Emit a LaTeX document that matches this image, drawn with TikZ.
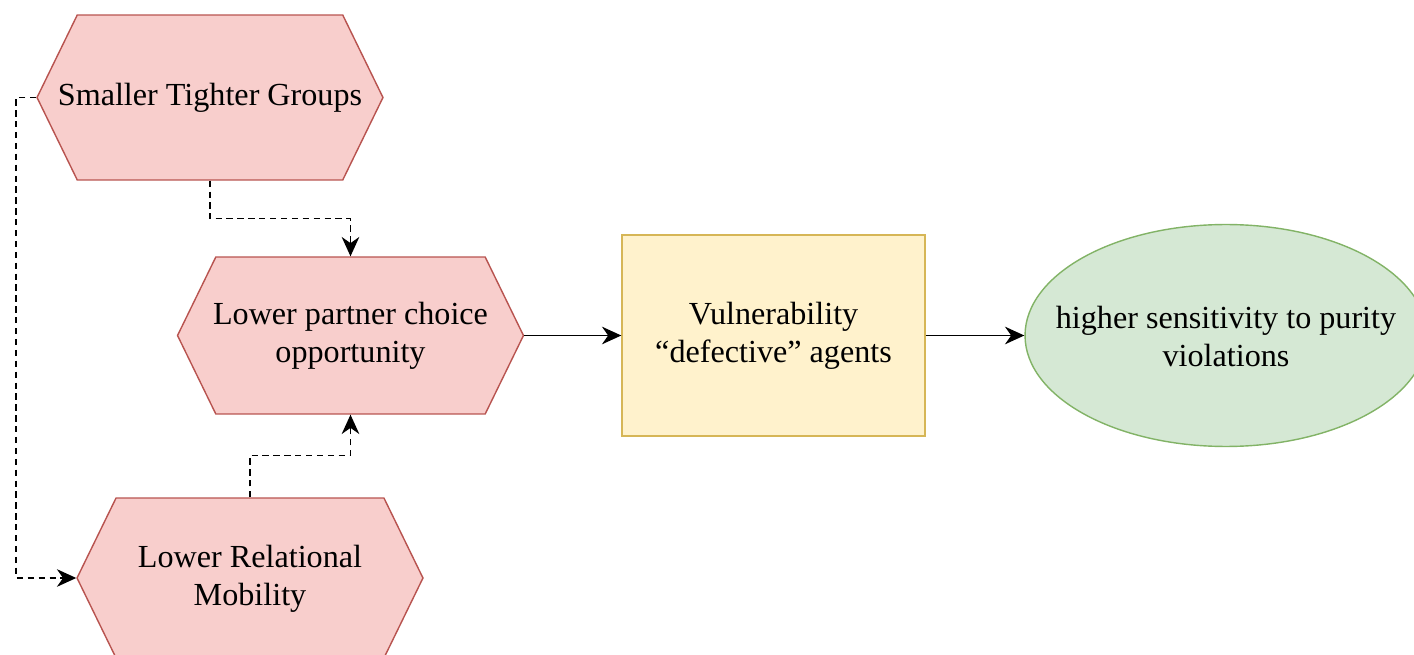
\documentclass[tikz,border=0pt]{standalone}
\usepackage{fontspec}
\setmainfont{Liberation Serif}
\usetikzlibrary{shapes.symbols,shapes.geometric,arrows.meta}
\definecolor{hexfill}{HTML}{F8CECC}
\definecolor{hexline}{HTML}{B85450}
\definecolor{boxfill}{HTML}{FFF2CC}
\definecolor{boxline}{HTML}{D6B656}
\definecolor{ovalfill}{HTML}{D5E8D4}
\definecolor{ovalline}{HTML}{82B366}
\tikzset{
  hexbox/.style={shape=signal, signal to=east and west, signal pointer angle=128,
    fill=hexfill, draw=hexline, line width=0.8pt, inner sep=0pt,
    minimum width=6.92cm, minimum height=3.3cm},
  vulnbox/.style={rectangle, fill=boxfill, draw=boxline, line width=0.8pt,
    inner sep=0pt, minimum width=6.06cm, minimum height=4.02cm},
  resultoval/.style={ellipse, fill=ovalfill, draw=ovalline, line width=0.8pt,
    inner sep=0pt, minimum width=8.04cm, minimum height=4.44cm},
  caption/.style={align=center, inner sep=0pt, yshift=-0.4pt},
  link/.style={line width=0.9pt, -{Stealth[length=11pt,width=10pt,inset=3.5pt]}},
  dashlink/.style={link, dash pattern=on 3.6pt off 2.6pt}
}
\begin{document}
\begin{tikzpicture}[x=0.02cm, y=-0.02cm, font=\fontsize{18.3}{21.6}\selectfont]
			%%%%% frame %%%%%
			\useasboundingbox (0,0) rectangle (1414,655);
			\clip (0,0) rectangle (1414,655);
			
			\node[hexbox] (groups) at (210,97.5) {};
			\node[caption] (groups-text) at (groups.center) {Smaller Tighter Groups};
			
			\node[hexbox, minimum height=3.14cm] (choice) at (350.5,335.5) {};
			\node[caption] (choice-text) at (choice.center) {Lower partner choice\\opportunity};
			
			\node[hexbox, minimum height=3.2cm] (mobility) at (250,578) {};
			\node[caption] (mobility-text) at (mobility.center) {Lower Relational\\Mobility};
			
			\node[vulnbox] (vuln) at (773.5,335.5) {};
			\node[caption] (vuln-text) at (vuln.center) {Vulnerability\\``defective'' agents};
			
			\node[resultoval] (purity) at (1226,335.5) {};
			\node[caption] (purity-text) at (purity.center) {higher sensitivity to purity\\violations};
			
			%%%%% links %%%%%
			\draw[dashlink] (groups.south) -- ++(0,38) -| (choice.north);
			\draw[dashlink] (mobility.north) -- ++(0,-42) -| (choice.south);
			\draw[dashlink] (groups.west) -- ++(-20,0) |- (mobility.west);
			
			\draw[link] (choice.east) -- (vuln.west);
			\draw[link] (vuln.east) -- (purity.west);
		\end{tikzpicture}
\end{document}
